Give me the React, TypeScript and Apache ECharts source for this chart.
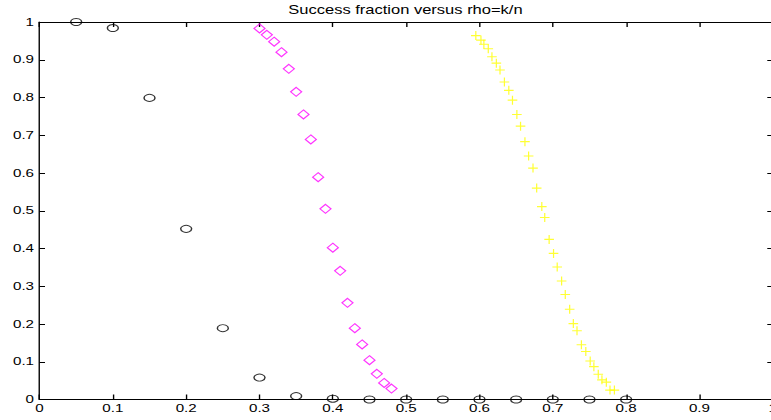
import React, { useEffect, useRef } from "react";
import * as echarts from "echarts";

// Tick values
const xTicksMin = 0;
const xTicksMax = 1;
const yTicksMin = 0;
const yTicksMax = 1;

// Series: black circles
const circleRho = [0.05, 0.1, 0.15, 0.2, 0.25, 0.3, 0.35, 0.4, 0.45, 0.5, 0.55, 0.6, 0.65, 0.7, 0.75, 0.8];
const circleFrac = [1.0, 0.984, 0.799, 0.452, 0.189, 0.058, 0.009, 0.002, 0, 0, 0, 0, 0, 0, 0, 0];

// Series: magenta diamonds
const diamondRho = [0.30, 0.31, 0.32, 0.33, 0.34, 0.35, 0.36, 0.37, 0.38, 0.39, 0.40, 0.41, 0.42, 0.43, 0.44, 0.45, 0.46, 0.47, 0.48];
const diamondFrac = [0.983, 0.966, 0.948, 0.920, 0.876, 0.815, 0.755, 0.689, 0.589, 0.505, 0.402, 0.341, 0.256, 0.189, 0.146, 0.104, 0.068, 0.044, 0.029];

// Series: yellow plus signs
const plusRho = [0.595, 0.602, 0.606, 0.612, 0.617, 0.623, 0.628, 0.634, 0.640, 0.645, 0.651, 0.656, 0.662, 0.667, 0.673, 0.678, 0.685, 0.689, 0.695, 0.701, 0.706, 0.712, 0.717, 0.723, 0.728, 0.733, 0.739, 0.745, 0.751, 0.756, 0.762, 0.767, 0.773, 0.778, 0.784];
const plusFrac = [0.964, 0.952, 0.941, 0.929, 0.908, 0.891, 0.873, 0.841, 0.819, 0.793, 0.755, 0.724, 0.683, 0.645, 0.613, 0.560, 0.511, 0.482, 0.424, 0.387, 0.351, 0.314, 0.278, 0.239, 0.201, 0.182, 0.145, 0.127, 0.102, 0.087, 0.067, 0.052, 0.046, 0.025, 0.025];

const titleText = "Success fraction versus rho=k/n";

const INNER_W = 560;
const INNER_H = 420;
const SCALE_X = 771 / INNER_W;

const zip = (xs: number[], ys: number[]) => xs.map((x, i) => [x, ys[i]]);

export default function App() {
  const ref = useRef<HTMLDivElement>(null);

  useEffect(() => {
    if (!ref.current) return;
    const chart = echarts.init(ref.current, undefined, { renderer: "svg" });
    const font = "Liberation Sans";
    const axisLine = { show: true, onZero: false, lineStyle: { color: "#000", width: 1 } };
    const option: any = {
      animation: false,
      backgroundColor: "#fff",
      title: {
        text: titleText,
        left: 294.5,
        top: 4,
        padding: 0,
        textAlign: "center",
        textStyle: { fontSize: 12, fontWeight: "normal", color: "#000", fontFamily: font },
      },
      grid: {
        left: 28.7,
        top: 22,
        width: 532.6,
        height: 377.5,
        containLabel: false,
        outerBoundsMode: "none",
      },
      xAxis: [
        {
          type: "value",
          position: "bottom",
          min: xTicksMin,
          max: xTicksMax,
          interval: 0.1,
          axisLine,
          axisTick: { show: true, inside: true, length: 5, lineStyle: { color: "#000" } },
          axisLabel: { show: true, margin: 3, fontSize: 11, color: "#000", fontFamily: font },
          splitLine: { show: false },
        },
        {
          type: "value",
          position: "top",
          min: xTicksMin,
          max: xTicksMax,
          interval: 0.1,
          axisLine,
          axisTick: { show: true, inside: true, length: 5, lineStyle: { color: "#000" } },
          axisLabel: { show: false },
          splitLine: { show: false },
        },
      ],
      yAxis: [
        {
          type: "value",
          position: "left",
          min: yTicksMin,
          max: yTicksMax,
          interval: 0.1,
          axisLine,
          axisTick: { show: true, inside: true, length: 4, lineStyle: { color: "#000" } },
          axisLabel: { show: true, margin: 4, fontSize: 11, color: "#000", fontFamily: font },
          splitLine: { show: false },
        },
        {
          type: "value",
          position: "right",
          min: yTicksMin,
          max: yTicksMax,
          interval: 0.1,
          axisLine,
          axisTick: { show: true, inside: true, length: 4, lineStyle: { color: "#000" } },
          axisLabel: { show: false },
          splitLine: { show: false },
        },
      ],
      series: [
        {
          type: "scatter",
          name: "circles",
          clip: false,
          xAxisIndex: 0,
          yAxisIndex: 0,
          symbol: "circle",
          symbolSize: [8, 7],
          itemStyle: { color: "transparent", borderColor: "#000", borderWidth: 1 },
          data: zip(circleRho, circleFrac),
        },
        {
          type: "scatter",
          name: "diamonds",
          clip: false,
          xAxisIndex: 0,
          yAxisIndex: 0,
          symbol: "diamond",
          symbolSize: [8, 9],
          itemStyle: { color: "transparent", borderColor: "#ff00ff", borderWidth: 1 },
          data: zip(diamondRho, diamondFrac),
        },
        {
          type: "scatter",
          name: "plus",
          clip: false,
          xAxisIndex: 0,
          yAxisIndex: 0,
          symbol: "path://M0,5L10,5M5,0L5,10",
          symbolSize: [7, 9],
          itemStyle: { color: "transparent", borderColor: "#ffff00", borderWidth: 1 },
          data: zip(plusRho, plusFrac),
        },
      ],
    };
    chart.setOption(option);
    return () => {
      chart.dispose();
    };
  }, []);

  return (
    <div
      style={{
        position: "absolute",
        left: 0,
        top: 0,
        width: 771,
        height: 420,
        overflow: "hidden",
        background: "#fff",
      }}
    >
      <div
        ref={ref}
        style={{
          width: INNER_W,
          height: INNER_H,
          transform: `scaleX(${SCALE_X})`,
          transformOrigin: "0 0",
        }}
      />
    </div>
  );
}
